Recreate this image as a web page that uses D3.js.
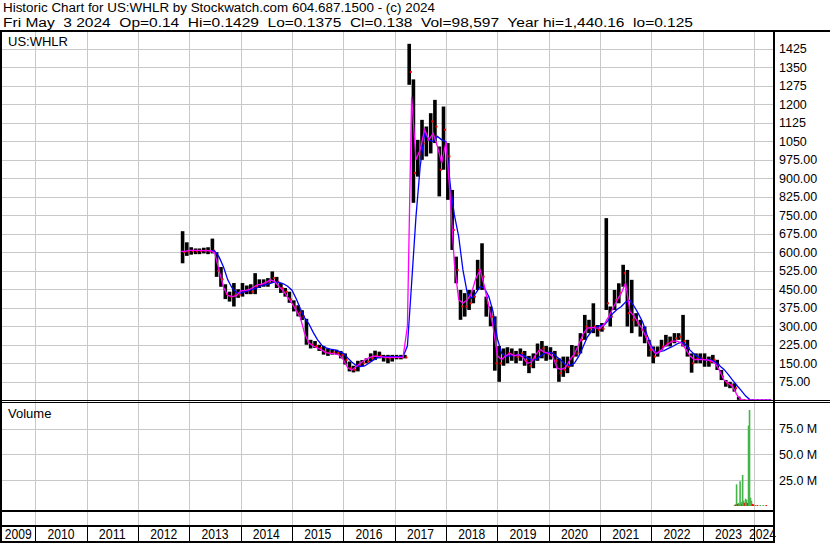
<!DOCTYPE html>
<html><head><meta charset="utf-8">
<script src="https://cdn.jsdelivr.net/npm/d3@7"></script>
<style>
body{margin:0;background:#fff;}
svg{display:block;font-family:"Liberation Sans",Arial,sans-serif;}
text{white-space:pre;}
</style></head><body>
<svg id="c" width="830" height="543"></svg>
<script>
// ---------- DATA (monthly) ----------
const months = [
 "2012-11","2012-12",
 "2013-01","2013-02","2013-03","2013-04","2013-05","2013-06","2013-07","2013-08","2013-09","2013-10","2013-11","2013-12",
 "2014-01","2014-02","2014-03","2014-04","2014-05","2014-06","2014-07","2014-08","2014-09","2014-10","2014-11","2014-12",
 "2015-01","2015-02","2015-03","2015-04","2015-05","2015-06","2015-07","2015-08","2015-09","2015-10","2015-11","2015-12",
 "2016-01","2016-02","2016-03","2016-04","2016-05","2016-06","2016-07","2016-08","2016-09","2016-10","2016-11","2016-12",
 "2017-01","2017-02","2017-03","2017-04","2017-05","2017-06","2017-07","2017-08","2017-09","2017-10","2017-11","2017-12",
 "2018-01","2018-02","2018-03","2018-04","2018-05","2018-06","2018-07","2018-08","2018-09","2018-10","2018-11","2018-12",
 "2019-01","2019-02","2019-03","2019-04","2019-05","2019-06","2019-07","2019-08","2019-09","2019-10","2019-11","2019-12",
 "2020-01","2020-02","2020-03","2020-04","2020-05","2020-06","2020-07","2020-08","2020-09","2020-10","2020-11","2020-12",
 "2021-01","2021-02","2021-03","2021-04","2021-05","2021-06","2021-07","2021-08","2021-09","2021-10","2021-11","2021-12",
 "2022-01","2022-02","2022-03","2022-04","2022-05","2022-06","2022-07","2022-08","2022-09","2022-10","2022-11","2022-12",
 "2023-01","2023-02","2023-03","2023-04","2023-05","2023-06","2023-07","2023-08","2023-09","2023-10","2023-11","2023-12",
 "2024-01","2024-02","2024-03","2024-04","2024-05"
];
const priceHigh = [
 685,640,
 620,615,615,618,620,655,600,540,470,440,475,450,
 475,465,470,515,490,490,495,522,500,475,455,440,
 405,385,365,330,245,240,225,220,210,205,205,200,
 190,157,140,160,163,170,190,201,197,184,184,184,
 184,184,184,1444,1300,1055,1136,1109,1163,1217,1028,1190,
 1042,852,582,447,434,447,447,569,636,420,380,340,
 220,210,215,210,200,210,200,180,190,230,240,220,
 215,200,170,177,177,224,220,272,346,326,393,305,
 313,738,380,447,474,549,528,488,353,326,299,245,
 218,218,245,265,258,272,272,346,245,190,190,190,
 190,177,184,164,123,82,75,69,15,3,1,0.6,
 0.4,0.3,0.3,0.25,0.1429
];
const priceLow = [
 555,585,
 590,592,592,595,592,595,500,460,410,400,380,415,
 420,430,430,430,455,460,460,475,455,435,420,395,
 360,340,325,225,210,212,200,185,180,185,185,170,
 145,117,113,117,137,150,157,163,170,157,150,157,
 166,166,170,1278,800,906,974,988,1000,1042,826,934,
 812,609,474,326,339,366,393,447,447,339,300,120,
 75,140,150,160,150,160,140,110,130,160,170,160,
 165,130,75,95,110,136,177,190,245,272,272,258,
 278,366,299,366,393,460,299,272,299,258,231,177,
 150,177,204,218,218,231,245,218,177,112,150,150,
 136,136,150,123,82,55,49,35,2,0.5,0.2,0.2,
 0.1,0.1,0.1,0.12,0.1375
];
const priceClose = [
 600,603,
 605,604,605,606,604,606,525,490,430,420,425,428,
 440,445,440,460,468,472,475,495,480,455,440,408,
 380,355,340,238,225,220,212,197,192,194,192,184,
 164,130,123,143,150,157,170,180,180,174,170,174,
 174,174,174,1330,920,1000,1040,1055,1130,1109,934,1096,
 988,690,528,380,380,393,420,528,501,393,339,150,
 150,180,190,185,175,190,160,140,170,200,210,190,
 190,160,110,123,136,177,190,245,299,292,299,285,
 290,393,339,407,434,515,353,326,312,285,258,204,
 177,197,218,231,238,251,258,240,211,150,170,170,
 164,157,165,143,96,69,62,49,5,1,0.4,0.3,
 0.2,0.15,0.15,0.14,0.138
];
const maFast = [
 603,603,
 607,607,607,606,606,606,596,525,458,425,420,424,
 443,445,448,458,468,471,478,488,481,460,443,418,
 393,362,336,270,233,220,212,203,193,190,188,184,
 165,133,123,136,150,163,172,179,178,176,174,174,
 174,174,175,300,1230,974,1015,1096,1055,1082,1028,961,
 1048,812,555,407,393,407,434,494,528,461,380,299,
 180,165,180,190,180,185,175,150,155,185,205,195,
 190,175,130,125,134,165,187,225,267,292,295,293,
 292,310,337,372,405,435,475,360,340,312,285,245,
 210,188,197,216,229,240,240,232,208,180,165,165,
 165,164,160,148,120,82,69,57,22,1,0.4,0.3,
 0.25,0.2,0.16,0.15,0.14
];
const maSlow = [
 null,null,
 null,null,null,null,null,606,604,580,540,488,455,437,
 434,440,445,450,456,465,470,474,480,478,472,462,
 446,410,372,334,310,275,246,223,212,207,204,198,
 190,172,155,141,137,139,150,163,173,176,177,177,
 177,177,177,220,474,744,947,1082,1055,1048,1069,1055,
 1048,866,751,663,528,434,413,434,461,454,420,360,
 250,190,178,180,182,185,183,172,163,165,178,190,
 195,190,175,160,143,142,150,177,216,255,280,297,
 302,305,325,352,368,380,398,405,380,350,315,265,
 220,192,197,201,210,218,228,236,226,204,187,175,
 165,164,164,155,140,125,105,82,60,40,18,3,
 0.5,0.3,0.2,0.18,0.16
];
// daily volume (millions of shares) where it is visible
const volDates = ["2023-08-10","2023-08-17","2023-08-24","2023-08-31","2023-09-07","2023-09-14","2023-09-18","2023-09-25",
 "2023-10-02","2023-10-06","2023-10-13","2023-10-20","2023-10-27","2023-11-03","2023-11-10","2023-11-17","2023-11-24",
 "2023-12-01","2023-12-08","2023-12-15","2023-12-22","2024-01-05","2024-01-19","2024-02-09","2024-03-01","2024-03-22"];
const volValues = [1.0,1.5,21,2,3,1.5,24,4, 2,30,5,3,7,6,3,78,93, 8,5,2,1.5,1,0.8,0.6,0.5,0.4];
const volUp = [1,0,1,0,1,0,1,1, 0,1,1,0,1,1,0,1,1, 1,1,0,0,1,0,1,1,0];

const priceTicks = [75,150,225,300,375,450,525,600,675,750,825,900,975,1050,1125,1200,1275,1350,1425];
const priceTickLabels = ["75.00","150.00","225.00","300.00","375.00","450.00","525.00","600.00","675.00","750.00",
 "825.00","900.00","975.00","1050","1125","1200","1275","1350","1425"];
const volTicks = [25,50,75];
const volTickLabels = ["25.0 M","50.0 M","75.0 M"];
const years = ["2009","2010","2011","2012","2013","2014","2015","2016","2017","2018","2019","2020","2021","2022","2023","2024"];
const headerLine1 = "Historic Chart for US:WHLR by Stockwatch.com 604.687.1500 - (c) 2024";
const headerLine2 = "Fri May  3 2024  Op=0.14  Hi=0.1429  Lo=0.1375  Cl=0.138  Vol=98,597  Year hi=1,440.16  lo=0.125";
const symbolLabel = "US:WHLR";
const volumeLabel = "Volume";

// ---------- LAYOUT ----------
const svg = d3.select("#c");
const L = 1, R = 773;
const MAIN_TOP = 31, MAIN_BOT = 400, VOL_TOP = 403, VOL_BOT = 510;
const GRID = "#c8c8c8";
const parseM = d3.timeParse("%Y-%m");
const parseD = d3.timeParse("%Y-%m-%d");

const x = d3.scaleTime().domain([new Date(2010,0,1), new Date(2024,0,1)]).range([35.3, 754.06]);
const y = d3.scaleLinear().domain([0,1500]).range([400.3, 30]);
const yv = d3.scaleLinear().domain([0,100]).range([506, 402.8]);

svg.append("rect").attr("width",830).attr("height",543).attr("fill","#fff");

const defs = svg.append("defs");
defs.append("clipPath").attr("id","cm").append("rect")
  .attr("x",L).attr("y",MAIN_TOP).attr("width",R-L).attr("height",MAIN_BOT-MAIN_TOP);
defs.append("clipPath").attr("id","cv").append("rect")
  .attr("x",L).attr("y",VOL_TOP).attr("width",R-L).attr("height",VOL_BOT-VOL_TOP);

// grid
const grid = svg.append("g").attr("shape-rendering","crispEdges");
grid.selectAll("line.h").data(priceTicks).join("line")
  .attr("x1",L).attr("x2",R).attr("y1",d=>Math.round(y(d))+0.5).attr("y2",d=>Math.round(y(d))+0.5)
  .attr("stroke",GRID);
grid.selectAll("line.hv").data(volTicks).join("line")
  .attr("x1",L).attr("x2",R).attr("y1",d=>Math.round(yv(d))+0.5).attr("y2",d=>Math.round(yv(d))+0.5)
  .attr("stroke",GRID);
const yearBounds = years.slice(1).map(s=>new Date(+s,0,1));
grid.selectAll("line.v").data(yearBounds).join("line")
  .attr("x1",d=>Math.round(x(d))+0.5).attr("x2",d=>Math.round(x(d))+0.5)
  .attr("y1",MAIN_TOP).attr("y2",526).attr("stroke",GRID);
grid.selectAll("line.vl").data(yearBounds).join("line")
  .attr("x1",d=>Math.round(x(d))+0.5).attr("x2",d=>Math.round(x(d))+0.5)
  .attr("y1",526).attr("y2",542).attr("stroke","#000");

// price data
const data = months.map((m,i)=>({d:parseM(m),h:priceHigh[i],l:priceLow[i],c:priceClose[i],f:maFast[i],s:maSlow[i]}));
const gm = svg.append("g").attr("clip-path","url(#cm)");
gm.selectAll("rect.bar").data(data).join("rect")
  .attr("x",d=>x(d.d)).attr("width",3.6)
  .attr("y",d=>y(d.h)).attr("height",d=>Math.max(1.2,y(d.l)-y(d.h)))
  .attr("fill","#000");
gm.selectAll("rect.cl").data(data).join("rect")
  .attr("x",d=>x(d.d)+2.4).attr("width",2)
  .attr("y",d=>y(d.c)-1).attr("height",2)
  .attr("fill","#ff0000");
gm.append("path").datum(data)
  .attr("d",d3.line().x(d=>x(d.d)).y(d=>y(d.s)).defined(d=>d.s!=null))
  .attr("fill","none").attr("stroke","#0000ff").attr("stroke-width",1.3);
gm.append("path").datum(data)
  .attr("d",d3.line().x(d=>x(d.d)).y(d=>y(d.f)))
  .attr("fill","none").attr("stroke","#ff00ff").attr("stroke-width",1.3);

// volume
const vdata = volDates.map((s,i)=>({d:parseD(s),v:volValues[i],up:volUp[i]}));
const gv = svg.append("g").attr("clip-path","url(#cv)");
gv.selectAll("rect").data(vdata).join("rect")
  .attr("x",d=>x(d.d)).attr("width",1.6)
  .attr("y",d=>Math.min(yv(d.v),yv(0)-1)).attr("height",d=>Math.max(1,yv(0)-yv(d.v)))
  .attr("fill",d=>d.up?"#44b448":"#ff0000");

// axes (right)
const ay = svg.append("g").attr("transform","translate(779,0)")
  .call(d3.axisRight(y).tickValues(priceTicks).tickFormat((d,i)=>priceTickLabels[i]).tickSize(0).tickPadding(0));
ay.select(".domain").remove();
ay.selectAll("text").attr("font-size",12.5).attr("font-family","Liberation Sans, Arial, sans-serif").attr("fill","#000");
const av = svg.append("g").attr("transform","translate(779,0)")
  .call(d3.axisRight(yv).tickValues(volTicks).tickFormat((d,i)=>volTickLabels[i]).tickSize(0).tickPadding(0));
av.select(".domain").remove();
av.selectAll("text").attr("font-size",12.5).attr("font-family","Liberation Sans, Arial, sans-serif").attr("fill","#000");

// year labels
svg.selectAll("text.yr").data(years).join("text")
  .attr("x",s=>{const a=Math.max(L,x(new Date(+s,0,1))), b=Math.min(R,x(new Date(+s+1,0,1))); return (a+b)/2 - (s==="2024"?1:0);})
  .attr("y",539).attr("text-anchor","middle")
  .attr("font-size",14).attr("textLength",27).attr("lengthAdjust","spacingAndGlyphs")
  .attr("fill","#000").text(s=>s);

// frame
const fr = svg.append("g").attr("fill","#000").attr("shape-rendering","crispEdges");
fr.append("rect").attr("x",0).attr("y",30).attr("width",830).attr("height",2);
fr.append("rect").attr("x",0).attr("y",30).attr("width",2).attr("height",513);
fr.append("rect").attr("x",773).attr("y",30).attr("width",2).attr("height",513);
fr.append("rect").attr("x",0).attr("y",400).attr("width",830).attr("height",1);
fr.append("rect").attr("x",0).attr("y",402).attr("width",830).attr("height",1);
fr.append("rect").attr("x",0).attr("y",510).attr("width",775).attr("height",2);
fr.append("rect").attr("x",0).attr("y",525).attr("width",775).attr("height",2);
fr.append("rect").attr("x",0).attr("y",541).attr("width",775).attr("height",2);

// header & panel titles
svg.append("text").attr("x",3).attr("y",12).attr("font-size",12.5)
  .attr("textLength",432).attr("lengthAdjust","spacingAndGlyphs").attr("fill","#000").text(headerLine1);
svg.append("text").attr("x",3).attr("y",26.5).attr("font-size",12.5)
  .attr("textLength",690).attr("lengthAdjust","spacingAndGlyphs").attr("fill","#000").text(headerLine2);
svg.append("text").attr("x",8).attr("y",46).attr("font-size",13).attr("fill","#000").text(symbolLabel);
svg.append("text").attr("x",8).attr("y",418).attr("font-size",13).attr("fill","#000").text(volumeLabel);
</script>
</body></html>
